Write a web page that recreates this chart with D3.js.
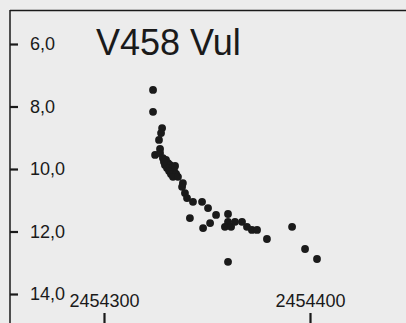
<!DOCTYPE html>
<html>
<head>
<meta charset="utf-8">
<script src="https://cdn.jsdelivr.net/npm/d3@7"></script>
<style>
  html, body { margin: 0; padding: 0; background: #ececec; }
  svg { display: block; font-family: "Liberation Sans", Arial, sans-serif; }
</style>
</head>
<body>
<svg width="406" height="323"></svg>
<script>
// light curve of V458 Vul (Julian date vs. visual magnitude)
const title = 'V458 Vul';
const jd = [
  2454323.8, 2454323.8, 2454328.2, 2454327.7, 2454326.7, 2454327.2, 2454324.8, 2454327.2,
  2454328.6, 2454330.1, 2454331.1, 2454329.6, 2454332.0, 2454330.6, 2454333.0, 2454331.6,
  2454334.0, 2454332.5, 2454335.0, 2454333.5, 2454335.9, 2454329.1, 2454334.5, 2454338.3,
  2454337.9, 2454339.3, 2454340.3, 2454343.2, 2454347.6, 2454350.5, 2454354.4, 2454341.7,
  2454348.1, 2454351.5, 2454360.2, 2454360.2, 2454358.7, 2454361.7, 2454363.6, 2454367.0,
  2454369.4, 2454371.8, 2454374.3, 2454379.1, 2454391.3, 2454397.6, 2454403.4, 2454360.2
];
const mag = [
  7.47, 8.17, 8.69, 8.85, 9.07, 9.36, 9.55, 9.49,
  9.65, 9.71, 9.81, 9.87, 9.87, 9.97, 9.97, 10.06,
  10.06, 10.16, 10.16, 10.25, 10.25, 9.77, 9.90, 10.45,
  10.57, 10.77, 10.93, 11.05, 11.05, 11.25, 11.47, 11.57,
  11.89, 11.73, 11.44, 11.69, 11.85, 11.85, 11.69, 11.69,
  11.85, 11.95, 11.95, 12.24, 11.85, 12.56, 12.88, 12.97
];
const magTicks = [6, 8, 10, 12, 14];
const jdTicks = [2454300, 2454400];

const svg = d3.select('svg');
const ink = '#1a1a1a';

const x = d3.scaleLinear().domain([2454300, 2454400]).range([104, 310]);
const y = d3.scaleLinear().domain([6, 14]).range([44, 294]);

const commaFmt = d3.formatLocale({ decimal: ',', thousands: '.', grouping: [3], currency: ['', ''] }).format('.1f');

// frame: top and left lines
svg.append('line').attr('x1', 10).attr('x2', 406).attr('y1', 10.5).attr('y2', 10.5)
  .attr('stroke', ink).attr('stroke-width', 1.5);
svg.append('line').attr('x1', 10).attr('x2', 10).attr('y1', 10).attr('y2', 323)
  .attr('stroke', ink).attr('stroke-width', 1.5);

// magnitude axis, ticks pointing inward
const yAxis = svg.append('g').attr('transform', 'translate(10,0)')
  .call(d3.axisRight(y).tickValues(magTicks).tickFormat(commaFmt).tickSize(8).tickSizeOuter(0).tickPadding(12));
yAxis.select('.domain').remove();
yAxis.selectAll('line').attr('stroke', ink).attr('stroke-width', 2.2);
yAxis.selectAll('text').attr('fill', ink).style('font-size', '18px');

// JD axis at the bottom: ticks hang down, labels sit above
const xAxis = svg.append('g').attr('transform', 'translate(0,313)')
  .call(d3.axisTop(x).tickValues(jdTicks).tickFormat(d3.format('d')).tickSize(-10).tickSizeOuter(0).tickPadding(6));
xAxis.select('.domain').remove();
xAxis.selectAll('line').attr('stroke', ink).attr('stroke-width', 2.2);
xAxis.selectAll('text').attr('fill', ink).style('font-size', '18px');

// title
svg.append('text').attr('x', 96).attr('y', 55).attr('fill', ink)
  .style('font-size', '36px').text(title);

// observations
svg.append('g').selectAll('circle')
  .data(d3.zip(jd, mag))
  .join('circle')
  .attr('cx', d => x(d[0]))
  .attr('cy', d => y(d[1]))
  .attr('r', 3.9)
  .attr('fill', ink);
</script>
</body>
</html>
